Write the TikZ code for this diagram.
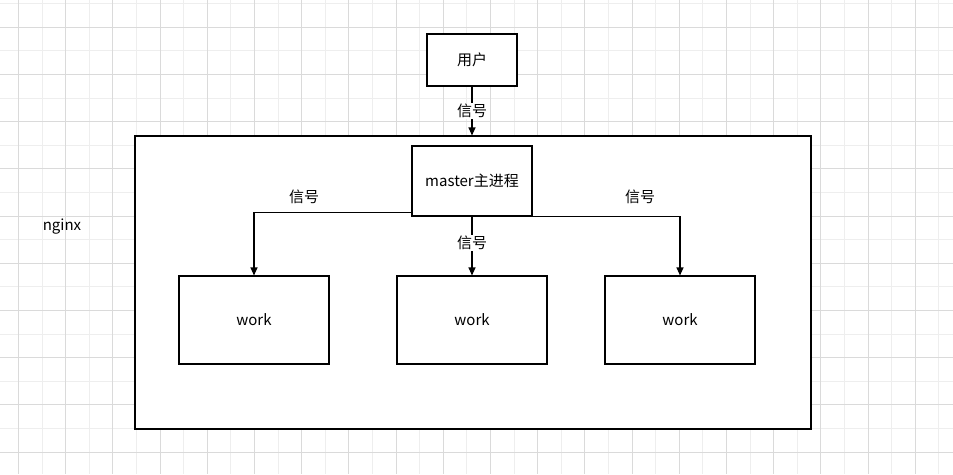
\documentclass[tikz,border=0pt]{standalone}
\usepackage{fontspec}
\setmainfont{Noto Sans CJK SC}
\usetikzlibrary{arrows.meta}

\definecolor{gridmajor}{HTML}{DADADA}
\definecolor{gridminor}{HTML}{EEEEEE}

\tikzset{
	box/.style={draw, line width=1.1pt, inner sep=0pt, font=\fontsize{15}{18}\selectfont},
	lbl/.style={inner sep=1pt, font=\fontsize{15}{18}\selectfont},
	sig/.style={line width=1.1pt, -{Triangle[length=8pt,width=7pt]}}
}

\begin{document}
\begin{tikzpicture}[x=1pt, y=-1pt]
	\useasboundingbox (0, 0) rectangle (953, 474);
	\fill[white] (0, 0) rectangle (953, 474);
	
	% grid
	\foreach \k in {0,...,39}
		\draw[gridminor, line width=0.8pt] (18.3 + 23.6*\k, 0) -- (18.3 + 23.6*\k, 474);
	\foreach \k in {0,...,19}
		\draw[gridminor, line width=0.8pt] (0, 3.5 + 23.6*\k) -- (953, 3.5 + 23.6*\k);
	\foreach \k in {0,2,...,38}
		\draw[gridmajor, line width=0.8pt] (18.3 + 23.6*\k, 0) -- (18.3 + 23.6*\k, 474);
	\foreach \k in {1,3,...,19}
		\draw[gridmajor, line width=0.8pt] (0, 3.5 + 23.6*\k) -- (953, 3.5 + 23.6*\k);
	
	\node[box, fill=white, minimum width=676pt, minimum height=293pt] (nginx) at (473, 282.5) {};
	\node[lbl] (name) at (62, 227) {nginx};
	
	\node[box, fill=white, minimum width=90pt, minimum height=52pt] (user) at (472, 60) {用户};
	\node[box, fill=white, minimum width=120pt, minimum height=70pt] (master) at (472, 181) {master主进程};
	
	\node[box, minimum width=150pt, minimum height=88pt] (work1) at (254, 320) {work};
	\node[box, minimum width=150pt, minimum height=88pt] (work2) at (472, 320) {work};
	\node[box, minimum width=150pt, minimum height=88pt] (work3) at (680, 320) {work};
	
	\draw[sig] (user.south) -- (user.south |- nginx.north)
		node[lbl, midway, fill=white] (sig0) {信号};
	\draw[sig] ([yshift=4pt]master.south west) -| (work1.north);
	\draw[sig] (master.south east) -| (work3.north);
	\draw[sig] (master.south) -- (work2.north)
		node[lbl, pos=0.45, fill=white] (sig2) {信号};
	
	\node[lbl] (sig1) at (304, 197) {信号};
	\node[lbl] (sig3) at (640, 197) {信号};
\end{tikzpicture}
\end{document}
